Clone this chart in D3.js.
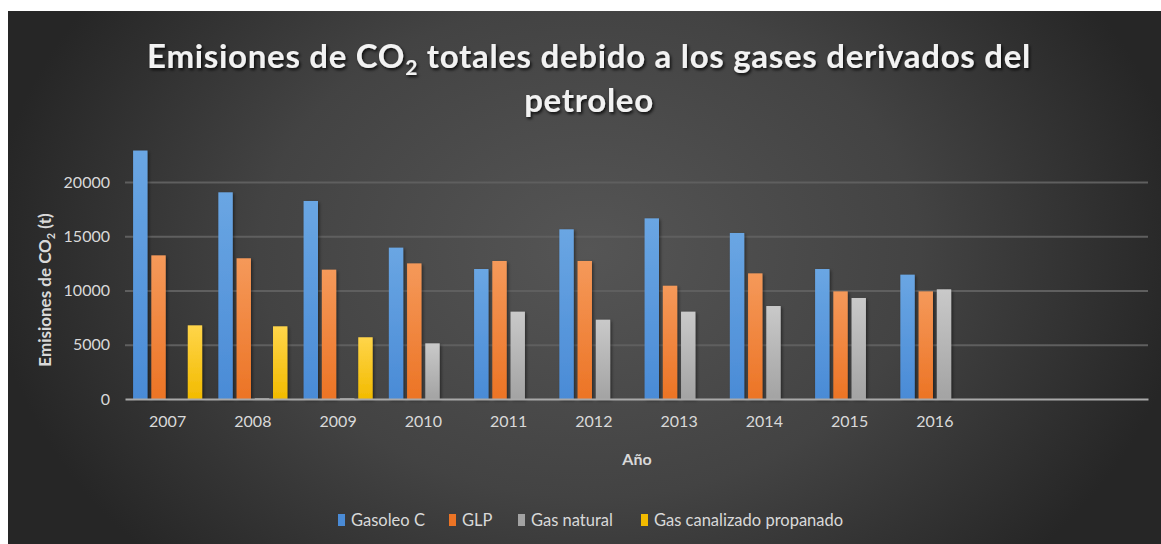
<!DOCTYPE html>
<html><head><meta charset="utf-8">
<script src="https://cdn.jsdelivr.net/npm/d3@7"></script>
<style>
html,body{margin:0;padding:0;background:#fff;}
svg{display:block;}
</style></head>
<body>
<svg id="chart" width="1161" height="544"></svg>
<script>
const categories = ["2007","2008","2009","2010","2011","2012","2013","2014","2015","2016","",""];
const seriesNames = ["Gasoleo C","GLP","Gas natural","Gas canalizado propanado"];
const gasoleoC   = [22900,19050,18250,13950,11980,15640,16650,15300,11980,11460,null,null];
const glp        = [13240,12970,11920,12500,12720,12720,10440,11580,9920,9920,null,null];
const gasNatural = [0,60,60,5130,8050,7310,8050,8570,9310,10110,null,null];
const gasPropano = [6790,6700,5690,0,0,0,0,0,0,0,null,null];
const yTicks = [0,5000,10000,15000,20000];
const seriesColors = [["#6aa6e3","#4a8bd6"],["#f5995a","#ec7425"],["#c9c9c9","#a3a3a3"],["#ffd54a","#f2bb00"]];

const FONT = "Lato, 'Open Sans', sans-serif";
const svg = d3.select("#chart");
const W = 1161, H = 544;
const defs = svg.append("defs");
const bg = defs.append("radialGradient").attr("id","bg").attr("gradientUnits","userSpaceOnUse")
  .attr("cx",590).attr("cy",250).attr("r",600).attr("gradientTransform","translate(590,250) scale(1,0.75) translate(-590,-250)");
bg.append("stop").attr("offset","0").attr("stop-color","#555555");
bg.append("stop").attr("offset","0.55").attr("stop-color","#434343");
bg.append("stop").attr("offset","1").attr("stop-color","#262626");
seriesColors.forEach((c,i)=>{
  const g = defs.append("linearGradient").attr("id","g"+i).attr("x1",0).attr("y1",0).attr("x2",0).attr("y2",1);
  g.append("stop").attr("offset","0").attr("stop-color",c[0]);
  g.append("stop").attr("offset","1").attr("stop-color",c[1]);
});
const sh = defs.append("filter").attr("id","sh").attr("x","-30%").attr("y","-10%").attr("width","160%").attr("height","130%");
sh.append("feDropShadow").attr("dx",1.5).attr("dy",1.5).attr("stdDeviation",1.5).attr("flood-color","#000").attr("flood-opacity",0.45);
const tsh = defs.append("filter").attr("id","tsh").attr("x","-5%").attr("y","-30%").attr("width","110%").attr("height","160%");
tsh.append("feDropShadow").attr("dx",1.5).attr("dy",2).attr("stdDeviation",1.5).attr("flood-color","#000").attr("flood-opacity",0.8);

svg.append("rect").attr("x",8).attr("y",11).attr("width",W-8).attr("height",H-11).attr("fill","url(#bg)");

const left = 125, right = 1148, y0 = 399;
const x0 = d3.scaleBand().domain(d3.range(categories.length)).range([left,right]).paddingInner(0.19).paddingOuter(0.095);
const x1 = d3.scaleBand().domain(d3.range(seriesNames.length)).range([0,x0.bandwidth()]).paddingInner(0.21).paddingOuter(0);
const y = d3.scaleLinear().domain([0,20000]).range([y0,182]);

// gridlines
const grid = svg.append("g").attr("transform",`translate(${left},0)`)
  .call(d3.axisLeft(y).tickValues(yTicks.slice(1)).tickSize(-(right-left)).tickFormat(""));
grid.select(".domain").remove();
grid.selectAll("line").attr("stroke","#5f5f5f").attr("stroke-width",2);

// y tick labels
const ya = svg.append("g").attr("transform",`translate(${left},0)`)
  .call(d3.axisLeft(y).tickValues(yTicks).tickSize(0).tickPadding(15).tickFormat(d3.format("d")));
ya.select(".domain").remove();
ya.selectAll("text").attr("fill","#d9d9d9").style("font-family",FONT).style("font-size","16px");

// bars
const allSeries = [gasoleoC, glp, gasNatural, gasPropano];
const groups = svg.append("g").selectAll("g").data(categories.map((c,i)=>i)).join("g")
  .attr("transform",i=>`translate(${x0(i)},0)`);
groups.selectAll("rect").data(i=>allSeries.map((s,k)=>({k, v:s[i]})).filter(d=>d.v!=null && d.v>0)).join("rect")
  .attr("x",d=>x1(d.k)).attr("width",x1.bandwidth())
  .attr("y",d=>y(d.v)).attr("height",d=>y0-y(d.v))
  .attr("fill",d=>`url(#g${d.k})`).attr("filter","url(#sh)");

// x axis
const xa = svg.append("g").attr("transform",`translate(0,${y0})`)
  .call(d3.axisBottom(x0).tickSize(0).tickPadding(17).tickFormat(i=>categories[i]));
xa.select(".domain").attr("stroke","#a9a9a9").attr("stroke-width",2);
xa.selectAll("text").attr("fill","#d9d9d9").style("font-family",FONT).style("font-size","16px");

// titles
const title = svg.append("text").attr("x",589).attr("y",68).attr("text-anchor","middle")
  .attr("fill","#f2f2f2").attr("filter","url(#tsh)")
  .style("font-family",FONT).style("font-weight","700").style("font-size","33px").style("letter-spacing","0.7px");
title.append("tspan").text("Emisiones de CO");
title.append("tspan").text("2").attr("font-size","21px").attr("dy",7);
title.append("tspan").text(" totales debido a los gases derivados del").attr("dy",-7);
svg.append("text").attr("x",589).attr("y",112).attr("text-anchor","middle")
  .attr("fill","#f2f2f2").attr("filter","url(#tsh)")
  .style("font-family",FONT).style("font-weight","700").style("font-size","33px").style("letter-spacing","0.7px")
  .text("petroleo");

const yt = svg.append("text").attr("transform","translate(51,290) rotate(-90)").attr("text-anchor","middle")
  .attr("fill","#d9d9d9").style("font-family",FONT).style("font-weight","700").style("font-size","17px");
yt.append("tspan").text("Emisiones de CO");
yt.append("tspan").text("2").attr("font-size","11px").attr("dy",4);
yt.append("tspan").text(" (t)").attr("dy",-4);

svg.append("text").attr("x",637).attr("y",465).attr("text-anchor","middle")
  .attr("fill","#d9d9d9").style("font-family",FONT).style("font-weight","700").style("font-size","16px").text("Año");

// legend
const legX = [338,449,518,641];
const leg = svg.append("g").selectAll("g").data(seriesNames).join("g")
  .attr("transform",(d,i)=>`translate(${legX[i]},514)`);
leg.append("rect").attr("width",7).attr("height",12).attr("y",0).attr("fill",(d,i)=>seriesColors[i][1]);
leg.append("text").attr("x",13).attr("y",12).text(d=>d).attr("fill","#d9d9d9")
  .style("font-family",FONT).style("font-size","16.5px");
</script>
</body></html>
